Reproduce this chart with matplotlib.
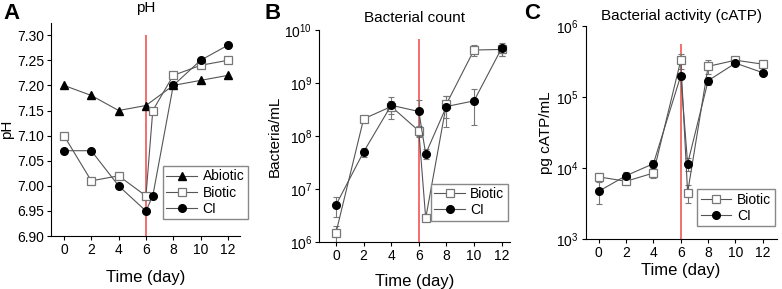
import numpy as np
import matplotlib.pyplot as plt

plt.rcParams['font.family'] = ['Liberation Sans', 'DejaVu Sans']

# time points (day)
t_abiotic = [0, 2, 4, 6, 8, 10, 12]
t = [0, 2, 4, 6, 6.5, 8, 10, 12]
xticks = [0, 2, 4, 6, 8, 10, 12]

# A: pH
ph_abiotic = [7.20, 7.18, 7.15, 7.16, 7.20, 7.21, 7.22]
ph_biotic = [7.10, 7.01, 7.02, 6.98, 7.15, 7.22, 7.24, 7.25]
ph_ci = [7.07, 7.07, 7.00, 6.95, 6.98, 7.20, 7.25, 7.28]

# B: bacterial count
cnt_biotic = [1.5e6, 2.1e8, 3.6e8, 1.25e8, 2.8e6, 4.0e8, 4.2e9, 4.3e9]
cnt_biotic_err = [0.5e6, 0.2e8, 1.0e8, 0.3e8, 0.2e6, 1.8e8, 1.0e9, 1.0e9]
cnt_ci = [5e6, 5e7, 3.8e8, 2.9e8, 4.6e7, 3.6e8, 4.6e8, 4.5e9]
cnt_ci_err = [2e6, 1e7, 1.7e8, 1.9e8, 1e7, 2.1e8, 3e8, 1.2e9]

# C: cATP
atp_biotic = [7.5e3, 6.5e3, 8.5e3, 3.3e5, 4.5e3, 2.7e5, 3.3e5, 2.9e5]
atp_biotic_err = [1e3, 8e2, 1.2e3, 8e4, 1.3e3, 6e4, 4e4, 1.5e4]
atp_ci = [4.7e3, 7.8e3, 1.15e4, 2.0e5, 1.15e4, 1.7e5, 3.0e5, 2.2e5]
atp_ci_err = [1.6e3, 1e3, 1.5e3, 2e4, 2.5e3, 2e4, 2e4, 1e4]

line_c = '#555555'
fig = plt.figure(figsize=(7.82, 2.89), dpi=100)

def style(ax, xpad):
    for s in ['top', 'right']:
        ax.spines[s].set_visible(False)
    ax.spines['left'].set_linewidth(0.8)
    ax.spines['bottom'].set_linewidth(0.8)
    ax.tick_params(direction='out', length=3, width=0.8, labelsize=10, pad=2)
    ax.tick_params(which='minor', length=0)
    ax.set_xticks(xticks)
    ax.set_xlabel('Time (day)', fontsize=12, labelpad=xpad)

def series(ax, x, y, err=None, kind='sq'):
    if kind == 'sq':
        kw = dict(marker='s', mfc='white', mec='#777777', ms=5.5, mew=0.9)
    elif kind == 'tri':
        kw = dict(marker='^', mfc='black', mec='black', ms=6)
    else:
        kw = dict(marker='o', mfc='black', mec='black', ms=5.5)
    if err is not None:
        ax.errorbar(x, y, yerr=err, fmt='none', ecolor='#777777', elinewidth=0.8,
                    capsize=2, capthick=0.8, zorder=2)
    return ax.plot(x, y, color=line_c, lw=0.8, zorder=3, **kw)[0]

leg_kw = dict(loc='lower right', fontsize=10, frameon=True, fancybox=False,
              edgecolor='#888888', framealpha=1, handlelength=2.2, borderpad=0.25,
              labelspacing=0.15, handletextpad=0.4, borderaxespad=0)

# ---- A ----
axA = fig.add_axes([0.0652, 0.183, 0.242, 0.737])
style(axA, 9)
axA.vlines(6, 6.90, 7.30, color='#f05555', lw=1.2, zorder=1)
h1 = series(axA, t_abiotic, ph_abiotic, kind='tri')
h2 = series(axA, t, ph_biotic, kind='sq')
h3 = series(axA, t, ph_ci, kind='ci')
axA.set_xlim(-0.95, 12.9)
axA.set_ylim(6.90, 7.324)
axA.set_yticks(np.arange(6.90, 7.31, 0.05))
axA.set_yticklabels(['%.2f' % v for v in np.arange(6.90, 7.31, 0.05)])
axA.set_ylabel('pH', fontsize=11, labelpad=2)
axA.set_title('pH', fontsize=11, pad=8)
axA.legend([h1, h2, h3], ['Abiotic', 'Biotic', 'CI'],
           bbox_to_anchor=(1.04, 0.08), **leg_kw)

# ---- B ----
axB = fig.add_axes([0.408, 0.163, 0.244, 0.733])
style(axB, 8)
axB.set_yscale('log')
axB.vlines(6, 1e6, 6.8e9, color='#f05555', lw=1.2, zorder=1)
b1 = series(axB, t, cnt_biotic, cnt_biotic_err, kind='sq')
b2 = series(axB, t, cnt_ci, cnt_ci_err, kind='ci')
axB.set_xlim(-1.23, 12.6)
axB.set_ylim(1e6, 1e10)
axB.set_yticks([1e6, 1e7, 1e8, 1e9, 1e10])
axB.set_ylabel('Bacteria/mL', fontsize=11, labelpad=2)
axB.set_title('Bacterial count', fontsize=11, pad=6)
axB.legend([b1, b2], ['Biotic', 'CI'], bbox_to_anchor=(0.99, 0.1), **leg_kw)

# ---- C ----
axC = fig.add_axes([0.749, 0.173, 0.244, 0.737])
style(axC, 2)
axC.set_yscale('log')
axC.vlines(6, 1e3, 5.6e5, color='#f05555', lw=1.2, zorder=1)
c1 = series(axC, t, atp_biotic, atp_biotic_err, kind='sq')
c2 = series(axC, t, atp_ci, atp_ci_err, kind='ci')
axC.set_xlim(-0.95, 13.0)
axC.set_ylim(1e3, 1e6)
axC.set_yticks([1e3, 1e4, 1e5, 1e6])
axC.set_ylabel('pg cATP/mL', fontsize=11, labelpad=2)
axC.set_title('Bacterial activity (cATP)', fontsize=11, pad=4)
axC.legend([c1, c2], ['Biotic', 'CI'], bbox_to_anchor=(0.99, 0.06), **leg_kw)

# panel letters
for x, lab in [(0.005, 'A'), (0.338, 'B'), (0.670, 'C')]:
    fig.text(x, 0.99, lab, fontsize=16, fontweight='bold', va='top', ha='left')

fig.savefig('out.png', dpi=100)
